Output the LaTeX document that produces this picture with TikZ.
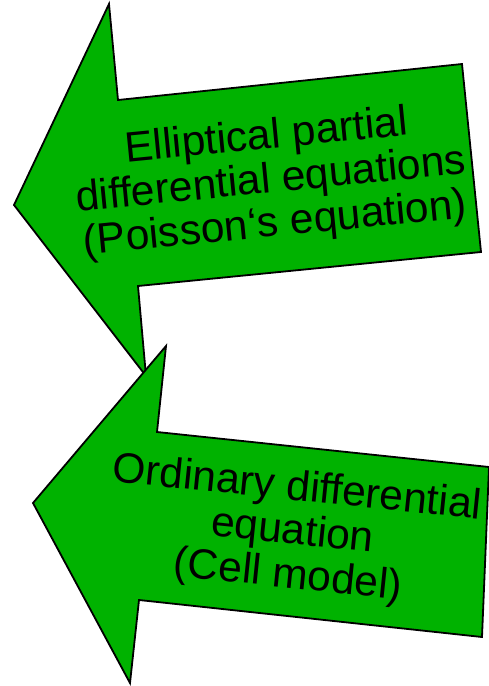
\documentclass[tikz,border=0pt]{standalone}
\usepackage{fontspec}
\setmainfont{Liberation Sans}
\definecolor{arrowgreen}{RGB}{0,178,0}
\begin{document}
\begin{tikzpicture}[x=1pt,y=-1pt,
  arrowshape/.style={fill=arrowgreen,draw=black,line width=1.8pt,line join=miter},
  arrowtext/.style={align=center,inner sep=0pt,font=\fontsize{42.5}{44}\selectfont}]
\useasboundingbox (0,0) rectangle (489,686);
% upper arrow
\path[arrowshape] (14,205) -- (109,4) -- (118,100) -- (462,64) -- (481,252) -- (138,286) -- (146,376) -- cycle;
\node[arrowtext,rotate=5.6] (upper) at (271,181.5) {Elliptical partial\\differential equations\\(Poisson‘s equation)};
% lower arrow
\path[arrowshape] (33,503) -- (166,346) -- (157,432) -- (489,467) -- (482,637) -- (139,600) -- (130,683) -- cycle;
\node[arrowtext,rotate=-5.9] (lower) at (292.5,533) {Ordinary differential\\equation\\(Cell model)};
\end{tikzpicture}
\end{document}
